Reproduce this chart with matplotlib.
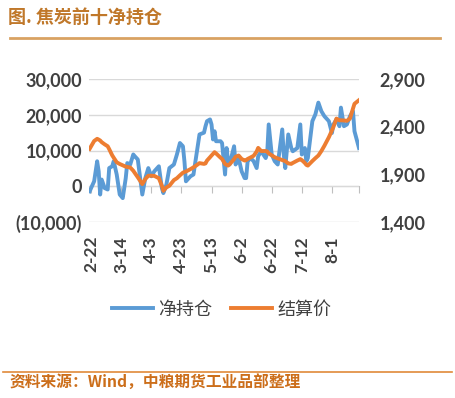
import matplotlib
matplotlib.use('Agg')
from matplotlib import pyplot as plt
from matplotlib.ticker import FuncFormatter

plt.rcParams['font.family'] = ['Lato', 'Noto Sans CJK SC', 'DejaVu Sans']

# 数据：交易日（距 2-22 的天数）、前十净持仓、结算价
days = [-1, 2, 4, 5, 6, 7, 9, 11, 12, 14, 15, 17, 19, 21, 23, 24, 26, 28, 29, 31,
        34, 36, 38, 40, 42, 45, 47, 48, 50, 52, 55, 57, 59, 61, 62, 63, 66, 68, 70, 72,
        75, 76, 77, 79, 80, 81, 82, 83, 86, 87, 89, 90, 91, 92, 95, 96, 98, 100, 102, 103,
        104, 106, 108, 110, 111, 113, 116, 117, 118, 120, 122, 124, 127, 128, 129, 131, 133, 134, 137, 139,
        140, 142, 143, 144, 147, 149, 151, 153, 155, 158, 160, 161, 163, 165, 166, 168, 170, 172, 174, 175,
        178]
net_pos = [-1400, 1400, 7000, 4200, -2300, 1900, -500, -900, 5100, 5600, 7000, 3300, -2300, -3300, 2300, 6500, 6100, 8900, 8400, 7500,
           -2300, 2300, 5100, 2800, 4200, 5600, -500, -1900, 500, 5100, 6100, 8900, 12100, 11200, 7000, 1400, 2800, 3300, 8900, 14500,
           15000, 16800, 18200, 18700, 17300, 13100, 15400, 12600, 12600, 12100, 3300, 10700, 7000, 6100, 11200, 6100, 7900, 4200, 2300, 2300,
           7000, 7900, 7000, 5100, 8400, 9800, 7900, 9300, 17300, 8900, 7000, 6100, 15900, 8900, 5100, 14500, 10700, 9800, 10700, 17300,
           8900, 10700, 7000, 7900, 18200, 20100, 23400, 21000, 19600, 18200, 14900, 17300, 18700, 16800, 22000, 16800, 17300, 19600, 21000, 15400,
           10700]
settle = [2168, 2250, 2273, 2265, 2255, 2238, 2215, 2195, 2165, 2100, 2075, 2027, 2009, 1995, 1981, 1978, 1972, 1938, 1915, 1870,
          1798, 1851, 1886, 1886, 1884, 1860, 1781, 1728, 1763, 1781, 1840, 1860, 1890, 1918, 1925, 1930, 1955, 1974, 1995, 2018,
          2010, 2015, 2045, 2080, 2098, 2115, 2133, 2120, 2075, 2062, 2009, 2000, 1992, 2005, 2060, 2085, 2098, 2062, 2045, 2050,
          2062, 2078, 2095, 2140, 2178, 2145, 2145, 2140, 2120, 2100, 2080, 2068, 2050, 2045, 2040, 2015, 2010, 2020, 2045, 2060,
          2050, 2020, 2000, 1992, 2040, 2070, 2098, 2145, 2200, 2290, 2360, 2397, 2485, 2467, 2467, 2465, 2462, 2485, 2590, 2640,
          2678]
tick_days = [0, 20, 40, 60, 80, 100, 120, 140, 160]
tick_labels = ['2-22', '3-14', '4-3', '4-23', '5-13', '6-2', '6-22', '7-12', '8-1']
left_ticks = [-10000, 0, 10000, 20000, 30000]
right_ticks = [1400, 1900, 2400, 2900]

blue = '#5B9BD5'
orange = '#ED7D31'
text_gray = '#404040'

fig = plt.figure(figsize=(4.55, 3.98), dpi=100)
ax = fig.add_axes([0.196, 0.442, 0.593, 0.3595])
ax2 = ax.twinx()

ax.plot(days, net_pos, color=blue, lw=2.8, solid_joinstyle='round', label='净持仓')
ax2.plot(days, settle, color=orange, lw=2.8, solid_joinstyle='round', label='结算价')

ax.set_xlim(-1.3, 178)
ax.set_ylim(-10000, 30000)
ax.set_yticks(left_ticks)
ax.yaxis.set_major_formatter(FuncFormatter(lambda v, p: f'({abs(v):,.0f})' if v < 0 else f'{v:,.0f}'))
ax2.set_ylim(1400, 2900)
ax2.set_yticks(right_ticks)
ax2.yaxis.set_major_formatter(FuncFormatter(lambda v, p: f'{v:,.0f}'))

ax.grid(axis='y', color='#D9D9D9', lw=1)
ax.set_axisbelow(True)
for a in (ax, ax2):
    for s in a.spines.values():
        s.set_visible(False)

ax.set_xticks(tick_days)
ax.set_xticklabels(tick_labels, rotation=90)
ax.tick_params(axis='x', length=0, pad=10, labelsize=12.5, labelcolor=text_gray)
ax.tick_params(axis='y', length=0, pad=5, labelsize=13, labelcolor=text_gray)
ax2.tick_params(axis='y', length=0, pad=15, labelsize=13, labelcolor=text_gray)
for lab in ax.get_xticklabels() + ax.get_yticklabels() + ax2.get_yticklabels():
    lab.set_fontweight('bold')

# 横轴线在 0 处
sec = ax.secondary_xaxis(0.25)
sec.set_xticks(tick_days + [178])
sec.tick_params(axis='x', direction='out', length=5, color='#BFBFBF', labelbottom=False)
sec.spines['bottom'].set_color('#BFBFBF')

h1, l1 = ax.get_legend_handles_labels()
h2, l2 = ax2.get_legend_handles_labels()
fig.legend(h1 + h2, l1 + l2, loc='center', bbox_to_anchor=(0.487, 0.222), ncol=2, frameon=False,
           prop={'family': 'Noto Sans CJK SC', 'size': 13}, labelcolor=text_gray,
           handlelength=2.3, handletextpad=0.3, columnspacing=1.0)

# 标题和来源
fig.text(0.018, 0.957, '图. 焦炭前十净持仓', family='Noto Sans CJK SC', fontsize=13, fontweight='bold',
         color='#C0782A', va='center', ha='left')
fig.add_artist(plt.Line2D([0.022, 0.967], [0.904, 0.904], color='#D9A262', lw=2))
fig.add_artist(plt.Line2D([0.006, 0.994], [0.065, 0.065], color='#E08A3A', lw=1.2))
fig.text(0.022, 0.038, '资料来源：Wind，中粮期货工业品部整理', family='Noto Sans CJK SC', fontsize=11.3,
         fontweight='bold', color='#CC6E1A', va='center', ha='left')

fig.savefig('out.png', dpi=100)
